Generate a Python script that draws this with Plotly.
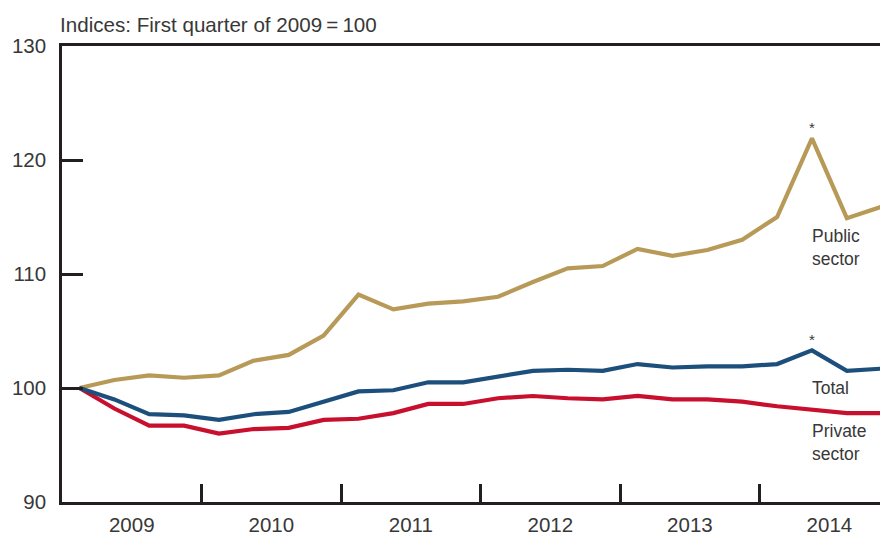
import plotly.graph_objects as go

quarters = [f"{y} Q{q}" for y in range(2009, 2015) for q in range(1, 5)]
years = ["2009", "2010", "2011", "2012", "2013", "2014"]

public_sector = [100.0, 100.7, 101.1, 100.9, 101.1, 102.4, 102.9, 104.6, 108.2, 106.9,
                 107.4, 107.6, 108.0, 109.3, 110.5, 110.7, 112.2, 111.6, 112.1, 113.0,
                 115.0, 121.9, 114.9, 115.9]
total = [100.0, 99.0, 97.7, 97.6, 97.2, 97.7, 97.9, 98.8, 99.7, 99.8,
         100.5, 100.5, 101.0, 101.5, 101.6, 101.5, 102.1, 101.8, 101.9, 101.9,
         102.1, 103.3, 101.5, 101.7]
private_sector = [100.0, 98.2, 96.7, 96.7, 96.0, 96.4, 96.5, 97.2, 97.3, 97.8,
                  98.6, 98.6, 99.1, 99.3, 99.1, 99.0, 99.3, 99.0, 99.0, 98.8,
                  98.4, 98.1, 97.8, 97.8]
y_ticks = [90, 100, 110, 120, 130]

GOLD = "#B89A58"
BLUE = "#1D4F7C"
RED = "#C8102E"
TXT = "#383838"
AX = "#231F20"
FONT = "Liberation Sans"

xidx = list(range(len(quarters)))
fig = go.Figure()
for name, vals, col in [("Public sector", public_sector, GOLD),
                        ("Private sector", private_sector, RED),
                        ("Total", total, BLUE)]:
    fig.add_trace(go.Scatter(x=xidx, y=vals, mode="lines", name=name,
                             line=dict(color=col, width=4.2), customdata=quarters,
                             hovertemplate="%{customdata}: %{y}<extra>" + name + "</extra>"))

# invisible trace on the label axis
fig.add_trace(go.Scatter(x=[None], y=[None], xaxis="x2", showlegend=False, hoverinfo="skip"))

boundaries = [4 * k - 0.5 for k in range(1, len(years))]
mids = [4 * k + 1.5 for k in range(len(years))]
xr = [-0.5, 23.18]

fig.update_layout(
    width=880, height=527,
    margin=dict(l=54, r=0, t=38, b=33),
    paper_bgcolor="white", plot_bgcolor="white",
    showlegend=False,
    font=dict(family=FONT, color=TXT, size=20),
    xaxis=dict(range=xr, tickvals=boundaries, ticktext=[""] * len(boundaries),
               ticks="inside", ticklen=18, tickwidth=2.5, tickcolor=AX,
               showline=True, linecolor=AX, linewidth=2.5, mirror=True,
               showgrid=False, zeroline=False),
    xaxis2=dict(range=xr, overlaying="x", side="bottom", tickvals=mids, ticktext=years,
                ticks="", showline=False, showgrid=False, zeroline=False,
                ticklabelstandoff=8,
                tickfont=dict(size=20.5, color=TXT, family=FONT)),
    yaxis=dict(range=[90, 130], tickvals=y_ticks, ticks="inside", ticklen=21,
               tickwidth=2.5, tickcolor=AX, showline=True, linecolor=AX, linewidth=2.5,
               showgrid=False, zeroline=False, ticklabelstandoff=9,
               tickfont=dict(size=20.5, color=TXT)),
)

ann_font = dict(family=FONT, size=17.5, color=TXT)
fig.add_annotation(text="Indices: First quarter of 2009\u2009=\u2009100", xref="paper", yref="paper",
                   x=0, y=1, xanchor="left", yanchor="bottom", yshift=8, xshift=-4,
                   showarrow=False, font=dict(family=FONT, size=20.6, color=TXT))
fig.add_annotation(text="Public<br>sector", x=21, y=112.3, xanchor="left", yanchor="middle",
                   showarrow=False, font=ann_font, align="left", xshift=-2)
fig.add_annotation(text="Total", x=21, y=100.0, xanchor="left", yanchor="middle",
                   showarrow=False, font=ann_font, align="left", xshift=-2)
fig.add_annotation(text="Private<br>sector", x=21, y=95.2, xanchor="left", yanchor="middle",
                   showarrow=False, font=ann_font, align="left", xshift=-2)
fig.add_annotation(text="*", x=21, y=public_sector[21], yanchor="bottom", yshift=0,
                   showarrow=False, font=dict(family=FONT, size=15, color=TXT))
fig.add_annotation(text="*", x=21, y=total[21], yanchor="bottom", yshift=0,
                   showarrow=False, font=dict(family=FONT, size=15, color=TXT))

fig.write_html("out.html")
